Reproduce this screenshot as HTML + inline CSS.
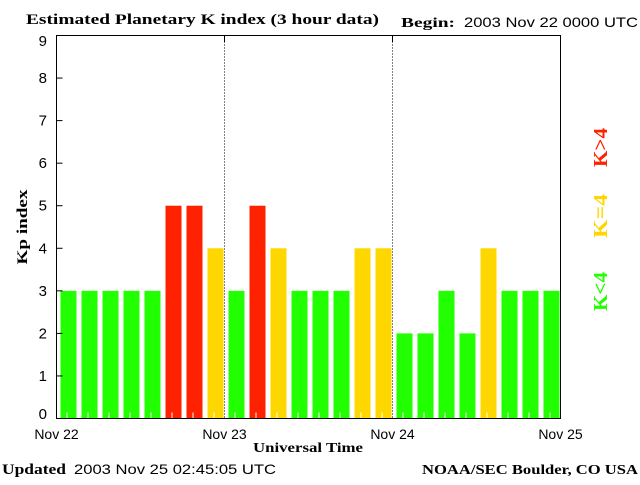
<!DOCTYPE html>
<html><head><meta charset="utf-8"><style>
body{margin:0;background:#fff}
svg text{font-family:"Liberation Sans",sans-serif}
.s{font-family:"Liberation Serif",serif;font-weight:bold}
</style></head><body>
<svg id="c" width="640" height="480" xmlns="http://www.w3.org/2000/svg">
<rect width="640" height="480" fill="#fff"/>
<text class="s" x="26" y="24" font-size="15" textLength="353" lengthAdjust="spacingAndGlyphs">Estimated Planetary K index (3 hour data)</text>
<text class="s" x="401" y="27" font-size="14" textLength="54" lengthAdjust="spacingAndGlyphs">Begin:</text>
<text x="464" y="27" font-size="14" textLength="174" lengthAdjust="spacingAndGlyphs">2003 Nov 22 0000 UTC</text>
<g id="bars"></g>
<g id="grid"></g>
<rect x="56.5" y="35.5" width="504" height="383" fill="none" stroke="#000"/>
<g id="yax"></g>
<g id="xax"></g>
<text class="s" x="0" y="0" font-size="15" textLength="75" lengthAdjust="spacingAndGlyphs" transform="translate(27,227) rotate(-90)" text-anchor="middle">Kp index</text>
<text class="s" x="253" y="452" font-size="14" textLength="110" lengthAdjust="spacingAndGlyphs">Universal Time</text>
<text class="s" x="2" y="474" font-size="15" textLength="64" lengthAdjust="spacingAndGlyphs">Updated</text>
<text x="74" y="474" font-size="14" textLength="202" lengthAdjust="spacingAndGlyphs">2003 Nov 25 02:45:05 UTC</text>
<text class="s" x="422" y="474" font-size="14" textLength="216" lengthAdjust="spacingAndGlyphs">NOAA/SEC Boulder, CO USA</text>
<text class="s" font-size="20" fill="#ff2200" transform="translate(607,128) rotate(-90)" text-anchor="end" textLength="39" lengthAdjust="spacingAndGlyphs">K&gt;4</text>
<text class="s" font-size="20" fill="#ffd700" transform="translate(607,238) rotate(-90)" textLength="44" lengthAdjust="spacingAndGlyphs">K=4</text>
<text class="s" font-size="20" fill="#22ff00" transform="translate(607,311) rotate(-90)" textLength="39" lengthAdjust="spacingAndGlyphs">K&lt;4</text>
</svg>
<script>
const kpValues=[3,3,3,3,3,5,5,4, 3,5,4,3,3,3,4,4, 2,2,3,2,4,3,3,3];
const dayLabels=["Nov 22","Nov 23","Nov 24","Nov 25"];
const yTicks=[0,1,2,3,4,5,6,7,8,9];
const NS="http://www.w3.org/2000/svg";
const X0=56.5,X1=560.5,Y0=418.5,Y9=35.5;
const xs=i=>X0+(X1-X0)*i/kpValues.length;
const ys=v=>Y0-(Y0-Y9)*v/9;
function mk(t,a,p){const e=document.createElementNS(NS,t);for(const k in a)e.setAttribute(k,a[k]);p.appendChild(e);return e;}
const bars=document.getElementById('bars');
kpValues.forEach((v,i)=>{
 const col=v>4?'#ff2200':v==4?'#ffd700':'#22ff00';
 const w=(X1-X0)/kpValues.length;
 const r=mk('rect',{x:xs(i)+4,y:ys(v),width:w-5,height:Y0-ys(v),fill:col},bars);
 
 
 const t=mk('line',{x1:xs(i)+w/2,x2:xs(i)+w/2,y1:Y0,y2:Y0-6,stroke:'#fff'},bars);
 
 
});
const grid=document.getElementById('grid'),xax=document.getElementById('xax');
dayLabels.forEach((d,i)=>{
 const x=X0+(X1-X0)*i/(dayLabels.length-1);
 if(i>0&&i<dayLabels.length-1){
  const g=mk('line',{x1:x,x2:x,y1:Y9,y2:Y0,stroke:'#000','stroke-dasharray':'1,2'},grid);
  
  
  mk('line',{x1:x,x2:x,y1:Y9,y2:Y9+7,stroke:'#000'},grid);
 }
 const t=mk('text',{x:x,y:439,'font-size':14,'text-anchor':'middle'},xax);
 t.textContent=d;
 
 
});
const yax=document.getElementById('yax');
yTicks.forEach(v=>{
 const y=ys(v);
 mk('line',{x1:X0,x2:X0+6,y1:y,y2:y,stroke:'#000'},yax);
 const t=mk('text',{x:47,y:Math.min(Math.max(y+5,46),419),'font-size':15,'text-anchor':'end'},yax);
 t.textContent=v;
 
 
});
</script>
</body></html>
